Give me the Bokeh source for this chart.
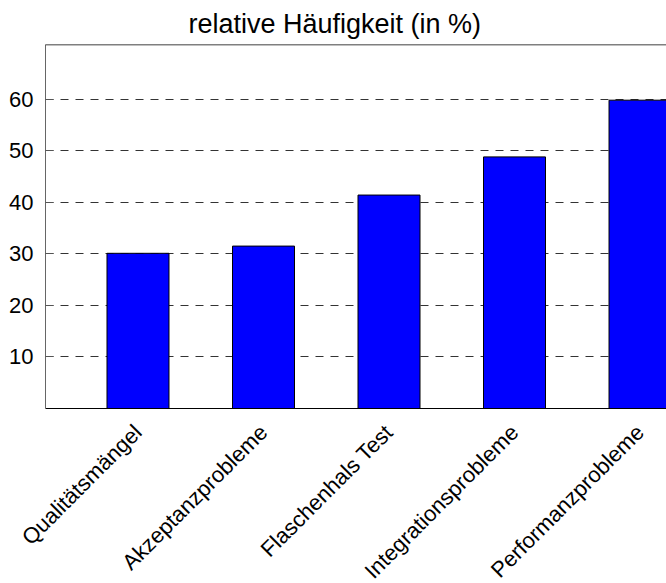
import math
from bokeh.plotting import figure
from bokeh.models import Range1d, FixedTicker, Span
from bokeh.embed import file_html
from bokeh.resources import INLINE

categories = ["Qualitätsmängel", "Akzeptanzprobleme", "Flaschenhals Test",
              "Integrationsprobleme", "Performanzprobleme"]
values = [30.1, 31.5, 41.4, 48.8, 59.8]
y_ticks = [10, 20, 30, 40, 50, 60]
title_text = "relative Häufigkeit (in %)"

positions = list(range(1, len(categories) + 1))

p = figure(width=666, height=596, output_backend="svg", toolbar_location=None,
           x_range=Range1d(0.263, 5.211), y_range=Range1d(0, 70.6),
           min_border_left=45, min_border_right=0, min_border_top=44,
           min_border_bottom=188, title=title_text)

p.title.align = "left"
p.title.offset = 143
p.title.standoff = 11
p.title.text_font = "Liberation Sans"
p.title.text_font_size = "27px"
p.title.text_font_style = "normal"
p.title.text_color = "black"

p.vbar(x=positions, top=values, width=0.494, fill_color="#0000FF",
       line_color="black", line_width=1)

p.outline_line_color = None
p.background_fill_color = "white"
p.border_fill_color = "white"

# x axis
p.xaxis.ticker = FixedTicker(ticks=positions)
p.xaxis.major_label_overrides = {pos: c for pos, c in zip(positions, categories)}
p.xaxis.major_label_orientation = math.pi / 4
p.xaxis.major_label_text_font = "Liberation Sans"
p.xaxis.major_label_text_font_size = "22px"
p.xaxis.major_label_text_color = "black"
p.xaxis.major_tick_line_color = None
p.xaxis.minor_tick_line_color = None
p.xaxis.axis_line_color = "black"
p.xaxis.major_label_standoff = 14

# y axis
p.yaxis.ticker = FixedTicker(ticks=y_ticks)
p.yaxis.major_label_text_font = "Liberation Sans"
p.yaxis.major_label_text_font_size = "22px"
p.yaxis.major_label_text_color = "black"
p.yaxis.major_tick_in = 8
p.yaxis.major_tick_out = 0
p.yaxis.major_tick_line_color = "#555555"
p.yaxis.minor_tick_line_color = None
p.yaxis.axis_line_color = "#666666"
p.yaxis.major_label_standoff = 12

p.xgrid.grid_line_color = None
p.ygrid.ticker = FixedTicker(ticks=y_ticks)
p.ygrid.grid_line_color = "#333333"
p.ygrid.grid_line_dash = "8 7"
p.ygrid.grid_line_width = 1

top_line = Span(location=70.6, dimension="width", line_color="black", line_width=1.5)
p.add_layout(top_line)

open("out.html", "w").write(file_html(p, INLINE))
